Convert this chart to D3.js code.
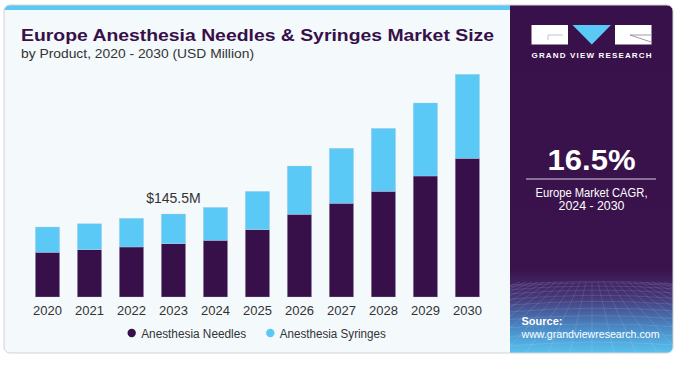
<!DOCTYPE html>
<html>
<head>
<meta charset="utf-8">
<script src="https://cdn.jsdelivr.net/npm/d3@7"></script>
<style>
  body { margin: 0; background: #ffffff; }
  svg text { font-family: "Liberation Sans", Arial, sans-serif; }
</style>
</head>
<body>
<div id="chart"></div>
<script>
// data (USD Million)
var years = ["2020", "2021", "2022", "2023", "2024", "2025", "2026", "2027", "2028", "2029", "2030"];
var needles = [78.4, 82.9, 87.7, 93.4, 99.4, 118.0, 145.0, 164.3, 185.3, 212.1, 243.1];
var syringes = [44.3, 45.6, 50.3, 52.1, 57.8, 67.3, 84.6, 96.4, 110.4, 128.0, 147.3];
var seriesNames = ["Anesthesia Needles", "Anesthesia Syringes"];
var seriesColors = ["#37104a", "#5bc9f6"];
var labelYear = "2023";
var labelText = "$145.5M";

var W = 684, H = 367;
var svg = d3.select("#chart").append("svg")
    .attr("width", W)
    .attr("height", H);

var defs = svg.append("defs");
var grad = defs.append("linearGradient")
    .attr("id", "panelGrad")
    .attr("x1", 0).attr("y1", 0).attr("x2", 0).attr("y2", 1);
grad.append("stop").attr("offset", "0%").attr("stop-color", "#38104a");
grad.append("stop").attr("offset", "76%").attr("stop-color", "#3a124c");
grad.append("stop").attr("offset", "84%").attr("stop-color", "#45387a");
grad.append("stop").attr("offset", "93%").attr("stop-color", "#4a8cc8");
grad.append("stop").attr("offset", "100%").attr("stop-color", "#5ac2ef");

defs.append("clipPath").attr("id", "cardClip")
    .append("rect")
    .attr("x", 4).attr("y", 5).attr("width", 669).attr("height", 348).attr("rx", 6);

// card
var card = svg.append("g").attr("clip-path", "url(#cardClip)");
card.append("rect")
    .attr("x", 4).attr("y", 5).attr("width", 669).attr("height", 348)
    .attr("fill", "#f4f9fc");
card.append("rect")
    .attr("x", 4).attr("y", 5).attr("width", 506).attr("height", 5)
    .attr("fill", "#5bc9f6");
card.append("rect")
    .attr("x", 510).attr("y", 5).attr("width", 163).attr("height", 348)
    .attr("fill", "url(#panelGrad)");

// perspective grid at the bottom of the side panel
var grid = card.append("g")
    .attr("stroke", "#ffffff")
    .attr("stroke-opacity", 0.16)
    .attr("stroke-width", 0.7)
    .attr("fill", "none");
d3.range(-12, 13).forEach(function(i) {
    grid.append("line")
        .attr("x1", 592 + i * 6).attr("y1", 282)
        .attr("x2", 592 + i * 22).attr("y2", 353);
});
d3.range(0, 12).forEach(function(i) {
    var y = 282 + Math.pow(i / 11, 1.6) * 71;
    grid.append("path")
        .attr("d", "M510," + (y + 3) + " Q592," + (y - 4) + " 673," + (y + 2));
});

svg.append("rect")
    .attr("x", 4).attr("y", 5).attr("width", 669).attr("height", 348).attr("rx", 6)
    .attr("fill", "none")
    .attr("stroke", "#cfd3d6")
    .attr("stroke-width", 1);

// titles
svg.append("text")
    .attr("x", 21).attr("y", 41)
    .attr("font-size", 17)
    .attr("font-weight", "bold")
    .attr("fill", "#37104a")
    .attr("textLength", 473)
    .attr("lengthAdjust", "spacingAndGlyphs")
    .text("Europe Anesthesia Needles & Syringes Market Size");
svg.append("text")
    .attr("x", 21).attr("y", 58)
    .attr("font-size", 13)
    .attr("fill", "#333333")
    .attr("textLength", 233)
    .attr("lengthAdjust", "spacingAndGlyphs")
    .text("by Product, 2020 - 2030 (USD Million)");

// scales
var x = d3.scaleBand()
    .domain(years)
    .range([26.5, 488.4])
    .paddingInner(0.42)
    .paddingOuter(0.21);

var y = d3.scaleLinear()
    .domain([0, 400])
    .range([297, 68.8]);

var table = years.map(function(yr, i) {
    return { year: yr, needles: needles[i], syringes: syringes[i] };
});
var stack = d3.stack().keys(["needles", "syringes"]);
var layers = stack(table);

var bars = svg.append("g").attr("class", "bars");
bars.selectAll("g.layer")
    .data(layers)
    .enter().append("g")
    .attr("class", "layer")
    .attr("fill", function(d, i) { return seriesColors[i]; })
    .selectAll("rect")
    .data(function(d) { return d; })
    .enter().append("rect")
    .attr("x", function(d) { return x(d.data.year); })
    .attr("width", x.bandwidth())
    .attr("y", function(d) { return y(d[1]); })
    .attr("height", function(d) { return y(d[0]) - y(d[1]); })
    .attr("stroke", "#c9cfe0")
    .attr("stroke-opacity", 0.5)
    .attr("stroke-width", 0.6);

// value label
var li = years.indexOf(labelYear);
svg.append("text")
    .attr("x", x(labelYear) + x.bandwidth() / 2)
    .attr("y", y(needles[li] + syringes[li]) - 11)
    .attr("text-anchor", "middle")
    .attr("font-size", 14)
    .attr("fill", "#333333")
    .text(labelText);

// x axis
var xAxis = svg.append("g")
    .attr("transform", "translate(0,297)")
    .call(d3.axisBottom(x).tickSize(0).tickPadding(9));
xAxis.select(".domain").remove();
xAxis.selectAll("text")
    .attr("font-size", 13)
    .attr("fill", "#333333")
    .style("font-family", "Liberation Sans, Arial, sans-serif");

// legend
var legendX = [131.7, 270.3];
var legendLen = [105, 106];
var legend = svg.append("g").attr("class", "legend");
seriesNames.forEach(function(name, i) {
    legend.append("circle")
        .attr("cx", legendX[i]).attr("cy", 333)
        .attr("r", 4.2)
        .attr("fill", seriesColors[i]);
    legend.append("text")
        .attr("x", legendX[i] + 9.5).attr("y", 337.5)
        .attr("font-size", 12.5)
        .attr("fill", "#333333")
        .attr("textLength", legendLen[i])
        .attr("lengthAdjust", "spacingAndGlyphs")
        .text(name);
});

// side panel: logo
var logo = svg.append("g");
logo.append("rect").attr("x", 531.5).attr("y", 25).attr("width", 36.5).attr("height", 19.5).attr("fill", "#ffffff");
logo.append("path")
    .attr("d", "M548,35 L548,40 M548,35 L563,35")
    .attr("stroke", "#b9b3c2").attr("stroke-width", 0.8).attr("fill", "none");
logo.append("path")
    .attr("d", "M572.5,25 L611,25 L591.8,44.5 Z")
    .attr("fill", "#5bc9f6");
logo.append("rect").attr("x", 615).attr("y", 25).attr("width", 36.5).attr("height", 19.5).attr("fill", "#ffffff");
logo.append("path")
    .attr("d", "M630,35 L651,35 M630,35 L651,42")
    .attr("stroke", "#8a7f98").attr("stroke-width", 0.8).attr("fill", "none");
svg.append("text")
    .attr("x", 591.5).attr("y", 58)
    .attr("text-anchor", "middle")
    .attr("font-size", 8)
    .attr("font-weight", "bold")
    .attr("fill", "#ffffff")
    .attr("textLength", 120)
    .attr("lengthAdjust", "spacing")
    .text("GRAND VIEW RESEARCH");

// side panel: CAGR
svg.append("text")
    .attr("x", 591.5).attr("y", 170)
    .attr("text-anchor", "middle")
    .attr("font-size", 30)
    .attr("font-weight", "bold")
    .attr("fill", "#ffffff")
    .attr("textLength", 88)
    .attr("lengthAdjust", "spacingAndGlyphs")
    .text("16.5%");
svg.append("line")
    .attr("x1", 526).attr("x2", 656)
    .attr("y1", 179).attr("y2", 179)
    .attr("stroke", "#d8d2de").attr("stroke-width", 1);
svg.append("text")
    .attr("x", 591.5).attr("y", 196.5)
    .attr("text-anchor", "middle")
    .attr("font-size", 12.5)
    .attr("fill", "#ffffff")
    .attr("textLength", 112)
    .attr("lengthAdjust", "spacingAndGlyphs")
    .text("Europe Market CAGR,");
svg.append("text")
    .attr("x", 591.5).attr("y", 210)
    .attr("text-anchor", "middle")
    .attr("font-size", 12.5)
    .attr("fill", "#ffffff")
    .attr("textLength", 66)
    .attr("lengthAdjust", "spacingAndGlyphs")
    .text("2024 - 2030");

// side panel: source
svg.append("text")
    .attr("x", 521.5).attr("y", 325)
    .attr("font-size", 11)
    .attr("font-weight", "bold")
    .attr("fill", "#ffffff")
    .text("Source:");
svg.append("text")
    .attr("x", 521.5).attr("y", 338)
    .attr("font-size", 11)
    .attr("fill", "#ffffff")
    .attr("textLength", 138)
    .attr("lengthAdjust", "spacingAndGlyphs")
    .text("www.grandviewresearch.com");
</script>
</body>
</html>
